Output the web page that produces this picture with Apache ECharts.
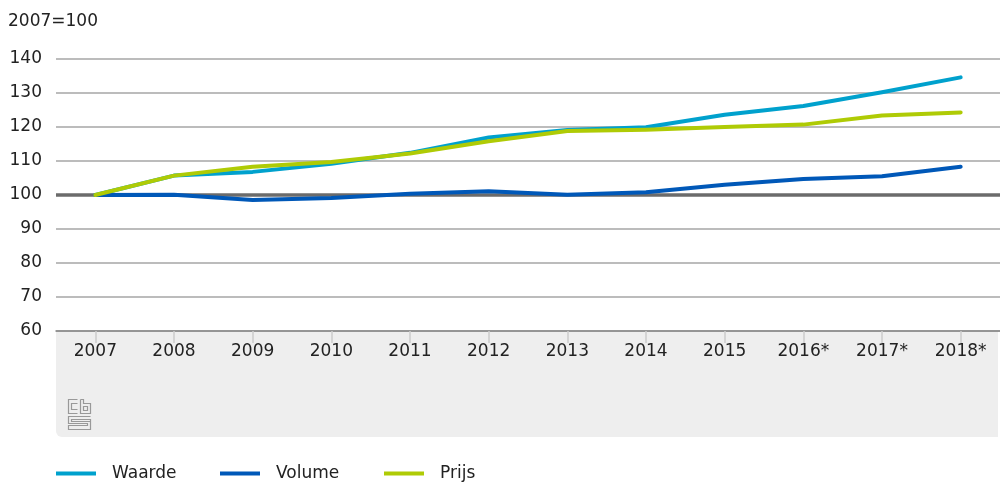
<!DOCTYPE html>
<html><head><meta charset="utf-8">
<script src="https://cdn.jsdelivr.net/npm/echarts@6/dist/echarts.min.js"></script>
<style>html,body{margin:0;padding:0;background:#fff}#c{width:1000px;height:482px}</style>
</head><body><div id="c"></div>
<script>
const categories = ['2007','2008','2009','2010','2011','2012','2013','2014','2015','2016*','2017*','2018*'];
const waarde = [100, 105.7, 106.8, 109.2, 112.4, 116.9, 119.1, 119.9, 123.6, 126.2, 130.2, 134.6];
const volume = [100, 100.1, 98.5, 99.1, 100.4, 101.1, 100.1, 100.8, 103.0, 104.7, 105.5, 108.3];
const prijs  = [100, 105.7, 108.3, 109.7, 112.2, 115.8, 118.8, 119.2, 120.0, 120.7, 123.4, 124.3];
const seriesNames = ['Waarde','Volume','Prijs'];
const colors = ['#00a1cd','#0058b8','#afcb05'];
const unitLabel = '2007=100';

const FONT = 'DejaVu Sans';
const FS = 17;
const chart = echarts.init(document.getElementById('c'));
const lineSeries = (name, data, color) => ({
  name, type:'line', data, symbol:'none', z:5,
  lineStyle:{color, width:4, cap:'round', join:'round'}, itemStyle:{color}
});
const legendLefts = [56, 220, 384];
chart.setOption({
  animation:false,
  textStyle:{fontFamily:FONT},
  graphic:[
    {type:'rect', z:-10, shape:{x:56,y:331,width:942,height:106,r:[0,0,0,6]}, style:{fill:'#eeeeee'}},
    {type:'text', left:8, top:13, style:{text:unitLabel, font:FS+'px "'+FONT+'"', fill:'#222'}},
    {type:'group', left:66, top:397, children:[
      {type:'polyline', shape:{points:[[10,1],[1,1],[1,15],[10,15]]}, style:{stroke:'#999',fill:null,lineWidth:1.2}},
      {type:'polyline', shape:{points:[[10,5],[4,5],[4,11],[10,11]]}, style:{stroke:'#999',fill:null,lineWidth:1.2}},
      {type:'polyline', shape:{points:[[13,1],[16,1],[16,5],[23,5],[23,15],[13,15],[13,1]]}, style:{stroke:'#999',fill:null,lineWidth:1.2}},
      {type:'rect', shape:{x:16,y:8,width:4,height:4}, style:{stroke:'#999',fill:null,lineWidth:1.2}},
      {type:'polyline', shape:{points:[[23,18],[1,18],[1,25],[20,25],[20,27],[1,27],[1,31],[23,31],[23,21],[4,21],[4,23],[23,23]]}, style:{stroke:'#999',fill:null,lineWidth:1.2}}
    ]}
  ],
  legend: seriesNames.map((n, i) => ({
    left:legendLefts[i], bottom:0, padding:0, itemWidth:40, itemHeight:4, icon:'rect',
    data:[n],
    textStyle:{fontSize:FS, color:'#222', fontFamily:FONT, padding:[0,0,0,11]}
  })),
  grid:{left:56, right:0, top:59, bottom:151, containLabel:false},
  xAxis:{
    type:'category', data:categories, boundaryGap:true,
    axisLine:{lineStyle:{color:'#888', width:1.5}},
    axisTick:{show:true, alignWithLabel:true, length:12, lineStyle:{color:'#cccccc', width:1.5}},
    axisLabel:{fontSize:FS, color:'#222', margin:12, fontFamily:FONT}
  },
  yAxis:{
    type:'value', min:60, max:140, interval:10,
    axisLine:{show:false}, axisTick:{show:false},
    axisLabel:{fontSize:FS, color:'#222', margin:14, fontFamily:FONT},
    splitLine:{lineStyle:{color:'#a6a6a6', width:1.5}}
  },
  series:[
    {type:'line', data:[], z:3, silent:true,
     markLine:{silent:true, symbol:'none', label:{show:false},
       lineStyle:{color:'#6b6b6b', width:3.5, type:'solid'}, data:[{yAxis:100}]}},
    lineSeries(seriesNames[0], waarde, colors[0]),
    lineSeries(seriesNames[1], volume, colors[1]),
    lineSeries(seriesNames[2], prijs, colors[2])
  ]
});
</script></body></html>
